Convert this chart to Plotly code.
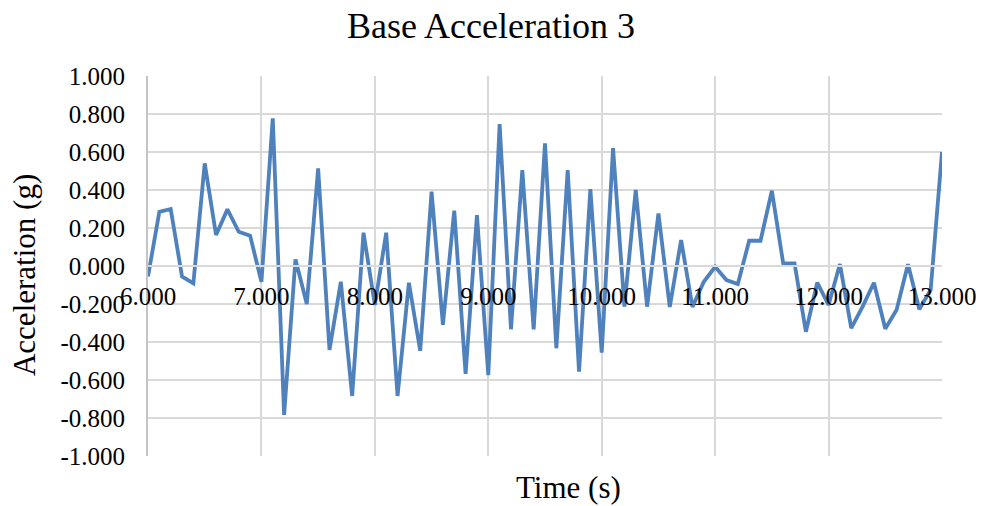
import plotly.graph_objects as go

# Sampled base acceleration, 0.1 s step from 6.0 s to 13.0 s
time_s = [round(6.0 + 0.1 * i, 1) for i in range(71)]
accel_g = [
    -0.055, 0.285, 0.300, -0.055, -0.091, 0.540, 0.163, 0.298, 0.180, 0.160,
    -0.083, 0.777, -0.784, 0.035, -0.200, 0.514, -0.442, -0.083, -0.684, 0.175,
    -0.205, 0.175, -0.684, -0.088, -0.446, 0.391, -0.310, 0.291, -0.568, 0.268,
    -0.574, 0.747, -0.333, 0.505, -0.333, 0.646, -0.433, 0.505, -0.556, 0.404,
    -0.456, 0.620, -0.214, 0.400, -0.214, 0.277, -0.216, 0.137, -0.216, -0.083,
    -0.004, -0.074, -0.095, 0.133, 0.133, 0.396, 0.014, 0.014, -0.346, -0.088,
    -0.205, 0.010, -0.327, -0.214, -0.088, -0.330, -0.230, 0.009, -0.228, -0.126,
    0.600,
]

x_ticks = [6, 7, 8, 9, 10, 11, 12, 13]
x_tick_text = ["6.000", "7.000", "8.000", "9.000", "10.000", "11.000", "12.000", "13.000"]
y_ticks = [1.0, 0.8, 0.6, 0.4, 0.2, 0.0, -0.2, -0.4, -0.6, -0.8, -1.0]
y_tick_text = ["1.000", "0.800", "0.600", "0.400", "0.200", "0.000",
               "-0.200", "-0.400", "-0.600", "-0.800", "-1.000"]

FONT = "Liberation Serif, Times New Roman, serif"
GRID = "#d9d9d9"

fig = go.Figure(
    go.Scatter(
        x=time_s,
        y=accel_g,
        mode="lines",
        line=dict(color="#4f81bd", width=3.8),
        hoverinfo="x+y",
    )
)

fig.update_layout(
    width=982,
    height=506,
    margin=dict(l=148, r=40, t=76, b=50, autoexpand=False),
    paper_bgcolor="white",
    plot_bgcolor="white",
    showlegend=False,
    font=dict(family=FONT, color="black"),
    title=dict(
        text="Base Acceleration 3",
        x=0.5,
        xref="container",
        xanchor="center",
        y=0.95,
        yref="container",
        yanchor="middle",
        font=dict(family=FONT, size=36, color="black"),
    ),
    xaxis=dict(
        range=[6, 13],
        tickvals=x_ticks,
        ticktext=x_tick_text,
        tickfont=dict(family=FONT, size=25, color="black"),
        showgrid=True,
        gridcolor=GRID,
        gridwidth=1.5,
        zeroline=False,
        showline=True,
        linecolor=GRID,
        linewidth=1.5,
        anchor="free",
        position=0.5,
        ticks="",
        ticklabelstandoff=8,
        automargin=False,
    ),
    yaxis=dict(
        range=[-1, 1],
        tickvals=y_ticks,
        ticktext=y_tick_text,
        tickfont=dict(family=FONT, size=25, color="black"),
        showgrid=True,
        gridcolor=GRID,
        gridwidth=1.5,
        zeroline=False,
        showline=True,
        linecolor="#c4c4c4",
        linewidth=2,
        ticks="",
        ticklabelstandoff=16,
        automargin=False,
    ),
    annotations=[
        dict(
            text="Time (s)",
            xref="paper", yref="paper",
            x=0.530, y=-0.084,
            xanchor="center", yanchor="middle",
            showarrow=False,
            font=dict(family=FONT, size=31, color="black"),
        ),
        dict(
            text="Acceleration (g)",
            xref="paper", yref="paper",
            x=-0.1555, y=0.475,
            xanchor="center", yanchor="middle",
            textangle=-90,
            showarrow=False,
            font=dict(family=FONT, size=31, color="black"),
        ),
    ],
)

fig.write_html("out.html")
